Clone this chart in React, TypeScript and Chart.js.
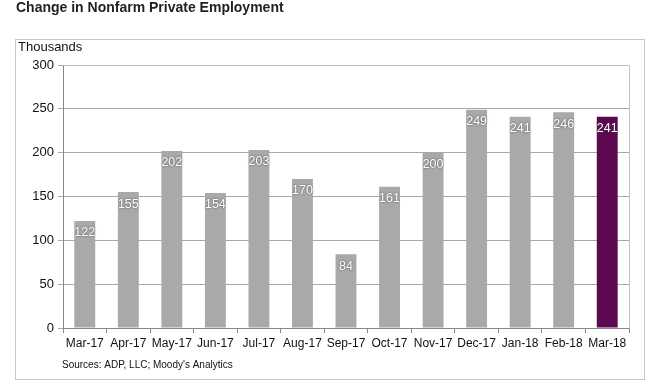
import React, { useEffect, useRef } from "react";
import { Chart, registerables } from "chart.js";

Chart.register(...registerables);

const categories = ["Mar-17", "Apr-17", "May-17", "Jun-17", "Jul-17", "Aug-17", "Sep-17", "Oct-17", "Nov-17", "Dec-17", "Jan-18", "Feb-18", "Mar-18"];
const values = [122, 155, 202, 154, 203, 170, 84, 161, 200, 249, 241, 246, 241];
const barColors = ["#a9a9a9", "#a9a9a9", "#a9a9a9", "#a9a9a9", "#a9a9a9", "#a9a9a9", "#a9a9a9", "#a9a9a9", "#a9a9a9", "#a9a9a9", "#a9a9a9", "#a9a9a9", "#5b0a52"];
const titleText = "Change in Nonfarm Private Employment";
const unitText = "Thousands";
const sourceText = "Sources: ADP, LLC; Moody's Analytics";

const FONT = "'Liberation Sans', Arial, sans-serif";

const decorPlugin = {
  id: "decor",
  beforeDraw(chart: any) {
    const ctx = chart.ctx;
    ctx.save();
    ctx.fillStyle = "#ffffff";
    ctx.fillRect(0, 0, chart.width, chart.height);
    // outer box
    ctx.strokeStyle = "#c8c8c8";
    ctx.lineWidth = 1;
    ctx.strokeRect(15.5, 39.5, 629, 340);
    // title
    ctx.fillStyle = "#222222";
    ctx.font = `bold 14px ${FONT}`;
    ctx.textBaseline = "middle";
    ctx.textAlign = "left";
    ctx.fillText(titleText, 16, 8);
    // unit
    ctx.fillStyle = "#111111";
    ctx.font = `13px ${FONT}`;
    ctx.fillText(unitText, 18, 47);
    // source
    ctx.font = `10px ${FONT}`;
    ctx.fillText(sourceText, 62, 365);
    ctx.restore();
  },
  afterDatasetsDraw(chart: any) {
    const ctx = chart.ctx;
    const a = chart.chartArea;
    ctx.save();
    // plot border top & right
    ctx.strokeStyle = "#c0c0c0";
    ctx.lineWidth = 1;
    ctx.beginPath();
    ctx.moveTo(Math.round(a.left) + 0.5, Math.round(a.top) + 0.5);
    ctx.lineTo(Math.round(a.right) + 0.5, Math.round(a.top) + 0.5);
    ctx.lineTo(Math.round(a.right) + 0.5, Math.round(a.bottom) + 0.5);
    ctx.stroke();
    // data labels
    const meta = chart.getDatasetMeta(0);
    ctx.font = `12.5px ${FONT}`;
    ctx.textAlign = "center";
    ctx.textBaseline = "middle";
    meta.data.forEach((bar: any, i: number) => {
      const v = values[i];
      ctx.shadowColor = "rgba(60,60,60,0.9)";
      ctx.shadowBlur = 2;
      ctx.shadowOffsetX = 0;
      ctx.shadowOffsetY = 0;
      ctx.fillStyle = "#ffffff";
      ctx.fillText(String(v), bar.x, bar.y + 12);
    });
    ctx.restore();
  },
};

export default function App() {
  const ref = useRef<HTMLCanvasElement | null>(null);
  useEffect(() => {
    if (!ref.current) return;
    const chart = new Chart(ref.current, {
      type: "bar",
      data: {
        labels: categories,
        datasets: [
          {
            data: values,
            backgroundColor: barColors,
            borderWidth: 0,
            categoryPercentage: 0.96,
            barPercentage: 0.5,
          },
        ],
      },
      options: {
        animation: false,
        responsive: false,
        maintainAspectRatio: false,
        layout: { padding: { left: 15, top: 65, right: 29, bottom: 27 } },
        plugins: { legend: { display: false }, tooltip: { enabled: false }, title: { display: false } },
        scales: {
          x: {
            offset: true,
            afterFit: (s: any) => { s.height = 30; },
            grid: { offset: true, drawOnChartArea: false, drawTicks: true, tickLength: 5, color: "#888888" },
            border: { display: true, color: "#888888" },
            ticks: { color: "#111111", font: { family: FONT, size: 12 }, padding: 3, maxRotation: 0, autoSkip: false },
          },
          y: {
            min: 0,
            max: 300,
            afterFit: (s: any) => { s.width = 48; },
            grid: { color: "#a8a8a8", tickLength: 5, drawTicks: true },
            border: { display: true, color: "#888888" },
            ticks: { stepSize: 50, color: "#111111", font: { family: FONT, size: 13 }, padding: 4 },
          },
        },
      },
      plugins: [decorPlugin],
    });
    return () => chart.destroy();
  }, []);
  return (
    <div style={{ position: "absolute", left: 0, top: 0, width: 658, height: 385, background: "#fff" }}>
      <canvas ref={ref} width={658} height={385} style={{ display: "block" }} />
    </div>
  );
}
